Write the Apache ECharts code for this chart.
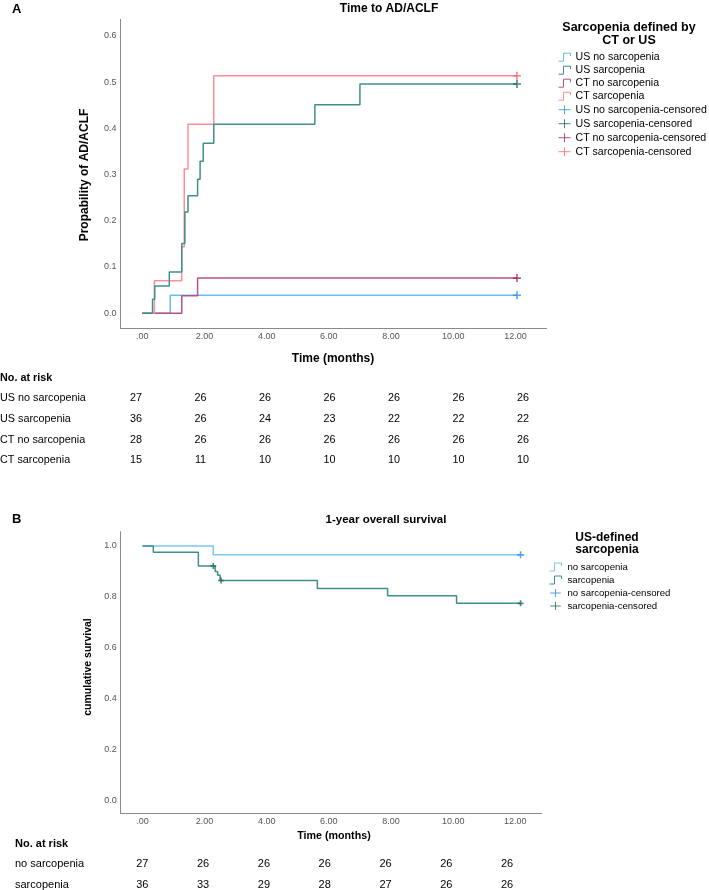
<!DOCTYPE html>
<html>
<head>
<meta charset="utf-8">
<script src="https://cdn.jsdelivr.net/npm/echarts@6/dist/echarts.min.js"></script>
<style>html,body{margin:0;padding:0;background:#fff;}#c{width:709px;height:890px;}</style>
</head>
<body>
<div id="c"></div>
<script>
// ---------- DATA ----------
const xTicks = [0, 2, 4, 6, 8, 10, 12];
const xTickLabels = ['.00', '2.00', '4.00', '6.00', '8.00', '10.00', '12.00'];
const yTicksTop = [0, 0.1, 0.2, 0.3, 0.4, 0.5, 0.6];
const yTickLabelsTop = ['0.0', '0.1', '0.2', '0.3', '0.4', '0.5', '0.6'];
const yTicksBottom = [0, 0.2, 0.4, 0.6, 0.8, 1.0];
const yTickLabelsBottom = ['0.0', '0.2', '0.4', '0.6', '0.8', '1.0'];

// Panel A: cumulative incidence (time in months, probability)
const usNoSarcA = [[0, 0], [0.9, 0.039], [12.05, 0.039]];
const usSarcA = [[0, 0], [0.33, 0.03], [0.4, 0.059], [0.87, 0.089], [1.27, 0.151], [1.37, 0.219], [1.47, 0.254], [1.78, 0.29], [1.86, 0.329], [1.96, 0.368], [2.3, 0.409], [5.55, 0.451], [7.0, 0.496], [12.05, 0.496]];
const ctNoSarcA = [[0, 0], [1.27, 0.038], [1.78, 0.076], [12.05, 0.076]];
const ctSarcA = [[0, 0], [0.39, 0.07], [1.27, 0.144], [1.35, 0.312], [1.47, 0.409], [2.3, 0.514], [12.05, 0.514]];
const usNoSarcACens = [[12.05, 0.039]];
const usSarcACens = [[12.05, 0.496]];
const ctNoSarcACens = [[12.05, 0.076]];
const ctSarcACens = [[12.05, 0.514]];

// Panel B: survival
const noSarcB = [[0, 1], [2.28, 0.965], [12.17, 0.965]];
const sarcB = [[0, 1], [0.35, 0.975], [1.8, 0.921], [2.34, 0.899], [2.42, 0.885], [2.5, 0.864], [5.63, 0.833], [7.89, 0.804], [10.11, 0.774], [12.17, 0.774]];
const noSarcBCens = [[12.17, 0.965]];
const sarcBCens = [[2.28, 0.921], [2.53, 0.864], [12.17, 0.774]];

// Numbers at risk
const riskRowsA = ['US no sarcopenia', 'US sarcopenia', 'CT no sarcopenia', 'CT sarcopenia'];
const riskUSNoA = [27, 26, 26, 26, 26, 26, 26];
const riskUSSarcA = [36, 26, 24, 23, 22, 22, 22];
const riskCTNoA = [28, 26, 26, 26, 26, 26, 26];
const riskCTSarcA = [15, 11, 10, 10, 10, 10, 10];
const riskRowsB = ['no sarcopenia', 'sarcopenia'];
const riskNoB = [27, 26, 26, 26, 26, 26, 26];
const riskSarcB = [36, 33, 29, 28, 27, 26, 26];

// ---------- STYLE ----------
const FF = '"Liberation Sans", Arial, sans-serif';
const col = {
  usNo: '#66bdf0', usNoC: '#2f8fe0',
  usS: '#3f8f8a', usSC: '#1f6660',
  ctNo: '#b9508a', ctNoC: '#a3285f',
  ctS: '#ff8f97', ctSC: '#ff5f69'
};
const plusSym = 'path://M5,0 L5,10 M0,5 L10,5';
const stepIcon = 'path://M0,9 L5,9 L5,1 L12,1 L12,4';
const censIcon = 'path://M0,5 L12,5 M6,0.5 L6,9.5';

function fmt(vals, labels) { return v => { const i = vals.findIndex(t => Math.abs(t - v) < 1e-6); return i >= 0 ? labels[i] : ''; }; }

function lineS(name, data, color, gi) {
  return { name, type: 'line', step: 'end', data, xAxisIndex: gi, yAxisIndex: gi, symbol: 'none',
    lineStyle: { color, width: 1.5 }, itemStyle: { color }, silent: true, z: 2 };
}
function censS(name, data, color, gi, size) {
  return { name, type: 'scatter', data, xAxisIndex: gi, yAxisIndex: gi, symbol: plusSym, symbolSize: size,
    itemStyle: { color: color, borderColor: color, borderWidth: 1.6 }, silent: true, z: 3 };
}
function legItem(name, color, icon) {
  return { name, icon, itemStyle: { color: 'none', borderColor: color, borderWidth: 1 } };
}

const axisLineStyle = { show: true, onZero: false, lineStyle: { color: '#8a8a8a', width: 1 } };
const tickLbl = { color: '#555', fontSize: 9, fontFamily: FF, margin: 4 };

const graphics = [];
function txt(x, y, text, o) {
  o = o || {};
  graphics.push({ type: 'text', x, y, rotation: o.rot || 0, silent: true,
    style: { text, fill: o.color || '#000', fontSize: o.size || 11, fontWeight: o.bold ? 'bold' : 'normal', fontFamily: FF,
      align: o.align || 'left', verticalAlign: 'middle', textAlign: o.align || 'left', textVerticalAlign: 'middle' } });
}
// Panel labels & titles
txt(12, 9, 'A', { bold: true, size: 13 });
txt(389, 9, 'Time to AD/ACLF', { bold: true, size: 12, align: 'center' });
txt(85, 175, 'Propability of AD/ACLF', { bold: true, size: 12, align: 'center', rot: Math.PI / 2 });
txt(333, 359, 'Time (months)', { bold: true, size: 12, align: 'center' });
txt(629, 28, 'Sarcopenia defined by', { bold: true, size: 12.5, align: 'center' });
txt(629, 41, 'CT or US', { bold: true, size: 12.5, align: 'center' });

txt(12, 519, 'B', { bold: true, size: 13 });
txt(386, 520, '1-year overall survival', { bold: true, size: 11.5, align: 'center' });
txt(88, 667, 'cumulative survival', { bold: true, size: 10.5, align: 'center', rot: Math.PI / 2 });
txt(334, 836, 'Time (months)', { bold: true, size: 10.7, align: 'center' });
txt(607, 538, 'US-defined', { bold: true, size: 12, align: 'center' });
txt(607, 550, 'sarcopenia', { bold: true, size: 12, align: 'center' });

// Risk tables
txt(0, 378, 'No. at risk', { bold: true, size: 10.8 });
const riskA = [riskUSNoA, riskUSSarcA, riskCTNoA, riskCTSarcA];
const rowYA = [398.5, 419.5, 440, 460.5];
riskRowsA.forEach((r, i) => {
  txt(0, rowYA[i], r, { size: 10.8 });
  riskA[i].forEach((v, j) => txt(136 + j * 64.5, rowYA[i], String(v), { size: 10.8, align: 'center' }));
});
txt(15, 843.5, 'No. at risk', { bold: true, size: 11 });
const riskB = [riskNoB, riskSarcB];
const rowYB = [863.5, 884.5];
riskRowsB.forEach((r, i) => {
  txt(15, rowYB[i], r, { size: 11 });
  riskB[i].forEach((v, j) => txt(142.3 + j * 60.8, rowYB[i], String(v), { size: 11, align: 'center' }));
});

const option = {
  animation: false,
  backgroundColor: '#fff',
  grid: [
    { left: 120.5, top: 19.3, width: 426, height: 308.7 },
    { left: 120.7, top: 531.7, width: 421, height: 281.6 }
  ],
  xAxis: [
    { type: 'value', gridIndex: 0, min: -0.7, max: 13.0, axisLine: axisLineStyle, axisTick: { show: false }, splitLine: { show: false },
      axisLabel: Object.assign({ customValues: xTicks, formatter: fmt(xTicks, xTickLabels) }, tickLbl) },
    { type: 'value', gridIndex: 1, min: -0.7, max: 12.85, axisLine: axisLineStyle, axisTick: { show: false }, splitLine: { show: false },
      axisLabel: Object.assign({ customValues: xTicks, formatter: fmt(xTicks, xTickLabels) }, tickLbl) }
  ],
  yAxis: [
    { type: 'value', gridIndex: 0, min: -0.032, max: 0.636, axisLine: axisLineStyle, axisTick: { show: false }, splitLine: { show: false },
      axisLabel: Object.assign({ customValues: yTicksTop, formatter: fmt(yTicksTop, yTickLabelsTop) }, tickLbl) },
    { type: 'value', gridIndex: 1, min: -0.052, max: 1.056, axisLine: axisLineStyle, axisTick: { show: false }, splitLine: { show: false },
      axisLabel: Object.assign({ customValues: yTicksBottom, formatter: fmt(yTicksBottom, yTickLabelsBottom) }, tickLbl) }
  ],
  legend: [
    { orient: 'vertical', left: 556, top: 50.7, padding: 0, itemGap: 0, itemWidth: 12, itemHeight: 9, selectedMode: false,
      textStyle: { fontSize: 10.6, fontFamily: FF, color: '#000', lineHeight: 11.9 },
      data: [
        legItem('US no sarcopenia', col.usNo, stepIcon),
        legItem('US sarcopenia', col.usS, stepIcon),
        legItem('CT no sarcopenia', col.ctNo, stepIcon),
        legItem('CT sarcopenia', col.ctS, stepIcon),
        legItem('US no sarcopenia-censored', col.usNoC, censIcon),
        legItem('US sarcopenia-censored', col.usSC, censIcon),
        legItem('CT no sarcopenia-censored', col.ctNoC, censIcon),
        legItem('CT sarcopenia-censored', col.ctSC, censIcon)
      ] },
    { orient: 'vertical', left: 547, top: 560.5, padding: 0, itemGap: 0, itemWidth: 14, itemHeight: 8, selectedMode: false,
      textStyle: { fontSize: 9.6, fontFamily: FF, color: '#000', lineHeight: 10.9 },
      data: [
        legItem('no sarcopenia', '#7cc8f2', stepIcon),
        legItem('sarcopenia', col.usS, stepIcon),
        legItem('no sarcopenia-censored', col.usNoC, censIcon),
        legItem('sarcopenia-censored', col.usSC, censIcon)
      ] }
  ],
  graphic: graphics,
  series: [
    lineS('US no sarcopenia', usNoSarcA, col.usNo, 0),
    lineS('CT no sarcopenia', ctNoSarcA, col.ctNo, 0),
    lineS('CT sarcopenia', ctSarcA, col.ctS, 0),
    lineS('US sarcopenia', usSarcA, col.usS, 0),
    censS('US no sarcopenia-censored', usNoSarcACens, col.usNoC, 0, 8),
    censS('US sarcopenia-censored', usSarcACens, col.usSC, 0, 8),
    censS('CT no sarcopenia-censored', ctNoSarcACens, col.ctNoC, 0, 8),
    censS('CT sarcopenia-censored', ctSarcACens, col.ctSC, 0, 8),
    lineS('no sarcopenia', noSarcB, '#7cc8f2', 1),
    lineS('sarcopenia', sarcB, col.usS, 1),
    censS('no sarcopenia-censored', noSarcBCens, col.usNoC, 1, 7),
    censS('sarcopenia-censored', sarcBCens, col.usSC, 1, 6)
  ]
};
const chart = echarts.init(document.getElementById('c'), null, { renderer: 'canvas' });
chart.setOption(option);
</script>
</body>
</html>
